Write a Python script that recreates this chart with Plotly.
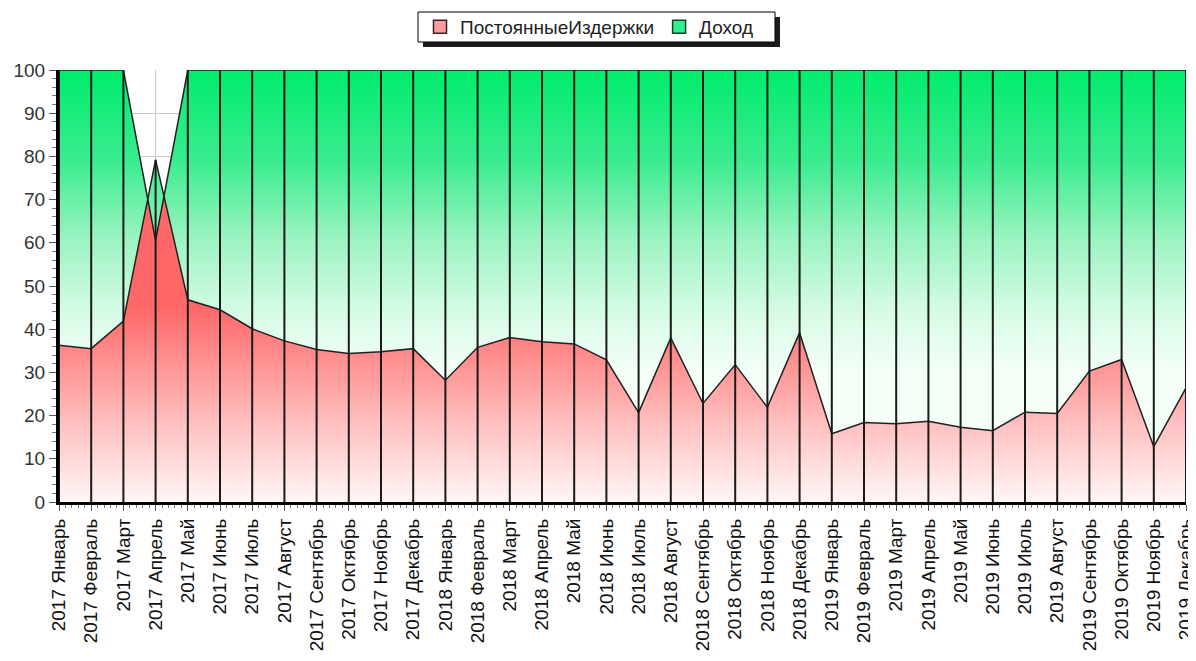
import plotly.graph_objects as go

months = ["Январь", "Февраль", "Март", "Апрель", "Май", "Июнь", "Июль",
          "Август", "Сентябрь", "Октябрь", "Ноябрь", "Декабрь"]
years = ["2017", "2018", "2019"]
categories = [f"{y} {m}" for y in years for m in months]

# ПостоянныеИздержки (%)
costs = [36.3, 35.5, 41.9, 79.2, 46.8, 44.5, 40.1, 37.3, 35.3, 34.4, 34.8, 35.5,
         28.2, 35.8, 38.1, 37.1, 36.6, 32.9, 20.7, 38.0, 22.8, 31.8, 21.9, 39.2,
         15.8, 18.4, 18.1, 18.7, 17.3, 16.5, 20.8, 20.5, 30.3, 33.0, 12.8, 26.4]
# Доход (%)
income = [63.7, 64.5, 58.1, -18.7, 53.2, 55.5, 59.9, 62.7, 64.7, 65.6, 65.2, 64.5,
          71.8, 64.2, 61.9, 62.9, 63.4, 67.1, 79.3, 62.0, 77.2, 68.2, 78.1, 60.8,
          84.2, 81.6, 81.9, 81.3, 82.7, 83.5, 79.2, 79.5, 69.7, 67.0, 87.2, 73.6]

yticks = [0, 10, 20, 30, 40, 50, 60, 70, 80, 90, 100]

xpos = list(range(len(categories)))
top = [c + i for c, i in zip(costs, income)]

# page has an 8px body margin; figure sized to fit the 1196x661 window
OFF = 8
W, H = 1196 - OFF, 661 - OFF
L, T = 59 - OFF, 70 - OFF
R = W - (1186 - OFF)
B = H - (502 - OFF)
PW, PH = W - L - R, H - T - B


def px_x(p):  # page pixel -> paper x
    return (p - OFF - L) / PW


def px_y(p):  # page pixel -> paper y
    return (H - B - (p - OFF)) / PH


fig = go.Figure()

fig.add_trace(go.Scatter(
    x=xpos, y=costs, name="ПостоянныеИздержки", mode="lines",
    line=dict(color="#202020", width=1.5),
    fill="tozeroy",
    fillgradient=dict(type="vertical", start=0, stop=45,
                      colorscale=[[0, "#fff6f6"], [0.4, "#ffc0c0"], [1, "#ff6868"]]),
    hoverinfo="skip", showlegend=False,
))
fig.add_trace(go.Scatter(
    x=xpos, y=top, name="Доход", mode="lines",
    line=dict(color="#202020", width=1.5),
    fill="tonexty",
    fillgradient=dict(type="vertical", start=30, stop=100,
                      colorscale=[[0, "#f4fff8"], [0.2, "#d6fbe5"], [0.45, "#98f3bf"],
                                  [0.7, "#3aec8f"], [1, "#00ec6c"]]),
    hoverinfo="skip", showlegend=False,
))

# black drop lines at each category
vx, vy = [], []
for x, c, t in zip(xpos, costs, top):
    vx += [x, x, None]
    vy += [0, max(c, t), None]
fig.add_trace(go.Scatter(x=vx, y=vy, mode="lines", line=dict(color="#1a1a1a", width=2),
                         showlegend=False, hoverinfo="skip"))

# legend entries (square swatches)
fig.add_trace(go.Scatter(x=[None], y=[None], mode="markers", name="ПостоянныеИздержки",
                         marker=dict(symbol="square", size=13, color="#ff9c9c",
                                     line=dict(color="#3a2020", width=1.5))))
fig.add_trace(go.Scatter(x=[None], y=[None], mode="markers", name="Доход",
                         marker=dict(symbol="square", size=13, color="#2ef08e",
                                     line=dict(color="#203a28", width=1.5))))

# legend box with drop shadow
fig.add_shape(type="rect", xref="paper", yref="paper", layer="below",
              x0=px_x(423), x1=px_x(780), y0=px_y(47), y1=px_y(17),
              fillcolor="#1a1a1a", line=dict(width=0))
fig.add_shape(type="rect", xref="paper", yref="paper", layer="below",
              x0=px_x(418), x1=px_x(775), y0=px_y(42), y1=px_y(12),
              fillcolor="white", line=dict(color="#000", width=1))

fig.update_layout(
    width=W, height=H,
    margin=dict(l=L, r=R, t=T, b=B, autoexpand=False),
    paper_bgcolor="white", plot_bgcolor="white",
    font=dict(family="Liberation Sans, Arial, sans-serif", color="#111"),
    showlegend=True,
    legend=dict(orientation="h", x=px_x(420), xanchor="left", y=px_y(27), yanchor="middle",
                bgcolor="rgba(0,0,0,0)", borderwidth=0, traceorder="normal",
                font=dict(size=19, color="#222"), itemwidth=30),
)
fig.update_xaxes(
    range=[0, len(categories) - 1], tickmode="array", tickvals=xpos, ticktext=categories,
    tickangle=-90, tickfont=dict(size=19, color="#111"), automargin=False,
    ticklabeloverflow="allow",
    showline=True, linecolor="#000", linewidth=3,
    ticks="outside", ticklen=6, tickcolor="#555",
    showgrid=True, gridcolor="#c8c8c8", gridwidth=1, zeroline=False,
    minor=dict(ticks="outside", ticklen=3, tickcolor="#777", dtick=0.2, showgrid=False),
)
fig.update_yaxes(
    range=[0, 100], tickmode="array", tickvals=yticks, automargin=False,
    ticklabeloverflow="allow",
    tickfont=dict(size=19, color="#333"),
    showline=True, linecolor="#000", linewidth=3,
    ticks="outside", ticklen=7, tickcolor="#555",
    showgrid=True, gridcolor="#c8c8c8", gridwidth=1, zeroline=False,
    minor=dict(ticks="outside", ticklen=4, tickcolor="#777", dtick=2, showgrid=False),
)

fig.write_html("out.html")
